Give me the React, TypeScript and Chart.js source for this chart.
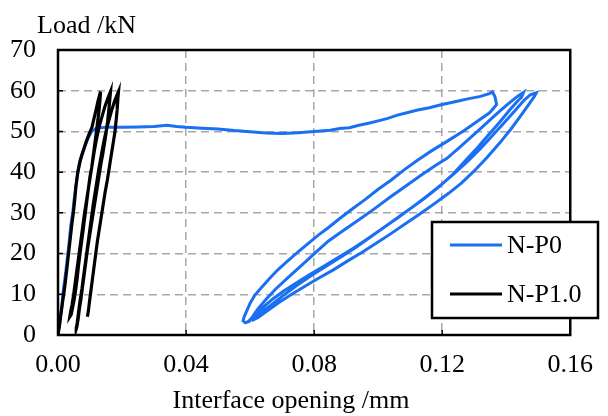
import { useEffect, useRef } from 'react';
import { Chart, registerables } from 'chart.js';

Chart.register(...registerables);

// ---------- DATA ----------
const xTickValues = [0, 0.04, 0.08, 0.12, 0.16];
const yTickValues = [0, 10, 20, 30, 40, 50, 60, 70];
const seriesNames = ['N-P0', 'N-P1.0'];
const axisTitles = { x: 'Interface opening /mm', y: 'Load /kN' };

// N-P0 : [opening (mm), load (kN)]
const np0Loading = [
  [0, 0], [0.0004, 2.5], [0.0008, 5], [0.0012, 7], [0.0015, 10], [0.002, 13], [0.0025, 16], [0.003, 19.5],
  [0.0035, 23], [0.004, 27], [0.0046, 30], [0.005, 33], [0.0055, 36], [0.006, 39], [0.0066, 42], [0.0075, 44.5],
  [0.0085, 46.5], [0.0095, 48.5], [0.0105, 50], [0.012, 50.8], [0.015, 51], [0.02, 51], [0.025, 51.1],
  [0.03, 51.2], [0.034, 51.5], [0.037, 51.2], [0.04, 51], [0.045, 50.8], [0.05, 50.6], [0.055, 50.2],
  [0.06, 49.9], [0.065, 49.6], [0.07, 49.5], [0.075, 49.7], [0.08, 50], [0.085, 50.3], [0.088, 50.7],
  [0.091, 50.9], [0.094, 51.5], [0.097, 52], [0.1, 52.6], [0.103, 53.2], [0.106, 54], [0.109, 54.6],
  [0.112, 55.2], [0.116, 55.8], [0.12, 56.6], [0.124, 57.3], [0.128, 58], [0.132, 58.6], [0.1347, 59.3],
  [0.1357, 59.7], [0.1365, 58.5], [0.137, 56.6],
];
const np0Unload1 = [
  [0.1355, 55.2], [0.1347, 54.5], [0.131, 52.5], [0.127, 50.3], [0.122, 47.8], [0.1164, 45.1], [0.1124, 43.0],
  [0.108, 40.5], [0.104, 38], [0.1, 35.8], [0.096, 33.3], [0.092, 31], [0.088, 28.6], [0.0845, 26.4],
  [0.0814, 24.6], [0.078, 22.4], [0.075, 20.4], [0.0715, 18], [0.0685, 15.9], [0.066, 13.8], [0.0635, 11.6],
  [0.0615, 9.8], [0.06, 7.8], [0.059, 6], [0.0582, 4.6], [0.0578, 3.5], [0.0585, 3.0], [0.0598, 3.4],
];
const np0Reload1 = [
  [0.0608, 4.5], [0.0625, 6.5], [0.065, 8.8], [0.068, 11.3], [0.072, 14.2], [0.0765, 17.4], [0.0805, 20.3],
  [0.0845, 23.1], [0.089, 25.6], [0.094, 28.3], [0.099, 31.1], [0.104, 34], [0.109, 36.8], [0.1135, 39.3],
  [0.118, 41.7], [0.1215, 43.4], [0.125, 45.8], [0.129, 48.6], [0.133, 51.4], [0.137, 54.3], [0.1405, 56.7],
  [0.1435, 58.6], [0.1454, 59.6],
];
const np0Unload2 = [
  [0.1448, 58.4], [0.1435, 57.4], [0.141, 55.2], [0.138, 52.3], [0.1345, 49.2], [0.131, 46], [0.127, 42.6],
  [0.123, 39.2], [0.119, 36.4], [0.1145, 33.6], [0.11, 31], [0.1055, 28.5], [0.101, 26], [0.0965, 23.5],
  [0.092, 21.2], [0.0875, 19], [0.083, 16.9], [0.0785, 14.8], [0.0743, 12.7], [0.0705, 10.8], [0.067, 8.8],
  [0.064, 6.8], [0.0615, 5], [0.0598, 3.6], [0.0592, 3.2],
];
const np0Reload2 = [
  [0.0605, 3.9], [0.063, 5.3], [0.0665, 7.3], [0.0705, 9.8], [0.075, 12.4], [0.0795, 14.8], [0.084, 17],
  [0.0885, 19.2], [0.093, 21.5], [0.0975, 24], [0.102, 26.5], [0.1065, 29], [0.111, 31.6], [0.1155, 34.3],
  [0.12, 37.1], [0.124, 39.8], [0.128, 42.7], [0.132, 45.8], [0.1355, 48.8], [0.139, 51.8], [0.1425, 54.9],
  [0.1455, 57.6], [0.1475, 59], [0.1494, 59.5],
];
const np0Unload3 = [
  [0.1488, 58.6], [0.147, 56.6], [0.1445, 53.8], [0.1415, 50.6], [0.138, 47.2], [0.134, 43.6], [0.13, 40.3],
  [0.126, 37.3], [0.122, 34.8], [0.1175, 32.2], [0.113, 29.7], [0.1085, 27.3], [0.104, 24.9], [0.0995, 22.6],
  [0.095, 20.3], [0.0905, 18.2], [0.086, 16], [0.0815, 14], [0.077, 11.9], [0.073, 10], [0.069, 8],
  [0.0655, 6], [0.0625, 4.3], [0.0605, 3.5],
];

// N-P1.0 : [opening (mm), load (kN)]
const np1Loading = [
  [0, 0], [0.0005, 2.5], [0.0009, 5], [0.0014, 8], [0.0018, 10], [0.0023, 13], [0.0028, 16.5], [0.0033, 20],
  [0.0038, 23.5], [0.0043, 27], [0.0048, 30], [0.0052, 33], [0.0056, 36.5], [0.0062, 40], [0.007, 43],
  [0.0078, 45], [0.0088, 47.5], [0.0098, 49.5], [0.0106, 51], [0.0112, 53], [0.0118, 55], [0.0125, 57.5],
  [0.0133, 59.8],
];
const np1Unload1 = [
  [0.0131, 57.5], [0.0128, 55], [0.0124, 52.5], [0.012, 50], [0.0115, 47], [0.011, 44], [0.0105, 41],
  [0.01, 39], [0.0095, 36], [0.0091, 33.5], [0.0087, 31], [0.0082, 28], [0.0078, 25.5], [0.0073, 22.5],
  [0.0068, 19.5], [0.0064, 17], [0.006, 14], [0.0055, 11], [0.005, 8.5], [0.0045, 6.5], [0.0041, 5], [0.0037, 4.5],
];
const np1Reload1 = [
  [0.0039, 5.5], [0.0044, 7.5], [0.0049, 10], [0.0054, 13], [0.0059, 16], [0.0065, 19.5], [0.0071, 23],
  [0.0077, 26.5], [0.0083, 30], [0.0089, 33], [0.0095, 36], [0.0101, 39], [0.0107, 42], [0.0113, 45],
  [0.012, 48], [0.0128, 51], [0.0137, 53.5], [0.0146, 56], [0.0155, 58], [0.0164, 59.8],
];
const np1Unload2 = [
  [0.0162, 58], [0.0159, 55.5], [0.0155, 52.5], [0.015, 49.5], [0.0145, 47], [0.014, 44.5], [0.0134, 42],
  [0.0128, 39], [0.0122, 36], [0.0116, 33], [0.011, 30], [0.0104, 27], [0.0098, 24], [0.0092, 21],
  [0.0087, 18], [0.0082, 15], [0.0077, 12], [0.0072, 9], [0.0067, 6.5], [0.0063, 4], [0.0059, 2], [0.0057, 1.5],
];
const np1Reload2 = [
  [0.006, 3], [0.0064, 5.5], [0.0069, 8.5], [0.0075, 11.5], [0.008, 14.5], [0.0086, 18], [0.0092, 21.5],
  [0.0098, 25], [0.0104, 28.5], [0.011, 32], [0.0116, 35], [0.0122, 38], [0.0128, 41], [0.0135, 44],
  [0.0142, 47], [0.015, 50], [0.0158, 52.5], [0.0167, 55], [0.0177, 57.5], [0.0189, 59.8],
];
const np1Unload3 = [
  [0.0187, 58], [0.0185, 55.5], [0.0182, 53], [0.0178, 50], [0.0172, 47], [0.0166, 44], [0.016, 41],
  [0.0154, 38], [0.0147, 35], [0.0141, 32], [0.0135, 29], [0.0129, 26], [0.0123, 23], [0.0118, 20],
  [0.0113, 17], [0.0108, 14], [0.0103, 11], [0.0098, 8], [0.0095, 6], [0.0092, 4.5],
];

const np0Path = [...np0Loading, ...np0Unload1, ...np0Reload1, ...np0Unload2, ...np0Reload2, ...np0Unload3];
const np1Path = [...np1Loading, ...np1Unload1, ...np1Reload1, ...np1Unload2, ...np1Reload2, ...np1Unload3];

// ---------- STYLE ----------
const BLUE = '#1a6ff2';
const BLACK = '#000000';
const FONT = '"Liberation Serif", "Times New Roman", serif';
const FONT_SIZE = 26;

const framePlugin = {
  id: 'frame',
  afterDatasetsDraw(chart: any) {
    const { ctx, chartArea: a, scales } = chart;
    ctx.save();
    ctx.strokeStyle = '#000';
    ctx.lineWidth = 1.5;
    ctx.beginPath();
    xTickValues.forEach((v) => {
      const px = scales.x.getPixelForValue(v);
      ctx.moveTo(px, a.bottom);
      ctx.lineTo(px, a.bottom - 5);
    });
    yTickValues.forEach((v) => {
      const py = scales.y.getPixelForValue(v);
      ctx.moveTo(a.left, py);
      ctx.lineTo(a.left + 5, py);
    });
    ctx.stroke();
    ctx.lineWidth = 2.5;
    ctx.strokeRect(a.left, a.top, a.right - a.left, a.bottom - a.top);
    ctx.restore();
  },
  afterDraw(chart: any) {
    const { ctx } = chart;
    ctx.save();
    ctx.fillStyle = '#000';
    ctx.font = `${FONT_SIZE}px ${FONT}`;
    ctx.textBaseline = 'alphabetic';
    ctx.textAlign = 'left';
    ctx.fillText(axisTitles.y, 37, 33);
    ctx.textAlign = 'center';
    ctx.fillText(axisTitles.x, 291, 408);

    const lx = 432, ly = 222, lw = 166, lh = 96;
    ctx.fillStyle = '#fff';
    ctx.fillRect(lx, ly, lw, lh);
    ctx.strokeStyle = '#000';
    ctx.lineWidth = 2.5;
    ctx.strokeRect(lx, ly, lw, lh);
    const rows = [
      { name: seriesNames[0], color: BLUE, y: 245 },
      { name: seriesNames[1], color: BLACK, y: 294 },
    ];
    rows.forEach((r) => {
      ctx.strokeStyle = r.color;
      ctx.lineWidth = 2.8;
      ctx.beginPath();
      ctx.moveTo(450, r.y);
      ctx.lineTo(502, r.y);
      ctx.stroke();
      ctx.fillStyle = '#000';
      ctx.textAlign = 'left';
      ctx.textBaseline = 'middle';
      ctx.fillText(r.name, 507, r.y + 1);
    });
    ctx.restore();
  },
};

export default function App() {
  const ref = useRef<HTMLCanvasElement>(null);

  useEffect(() => {
    document.body.style.margin = '0';
    const canvas = ref.current;
    if (!canvas) return;
    const gridColor = (ctx: any) => {
      const v = ctx.tick?.value;
      if (v === undefined) return 'rgba(0,0,0,0)';
      return ctx.index === 0 || ctx.index === ctx.chart.scales[ctx.scale.id].ticks.length - 1
        ? 'rgba(0,0,0,0)'
        : '#a8a8a8';
    };
    const chart = new Chart(canvas, {
      type: 'scatter',
      data: {
        datasets: [
          {
            label: seriesNames[1],
            data: np1Path.map(([x, y]) => ({ x, y })),
            showLine: true,
            borderColor: BLACK,
            backgroundColor: BLACK,
            borderWidth: 3.2,
            pointRadius: 0,
            tension: 0,
          },
          {
            label: seriesNames[0],
            data: np0Path.map(([x, y]) => ({ x, y })),
            showLine: true,
            borderColor: BLUE,
            backgroundColor: BLUE,
            borderWidth: 3,
            pointRadius: 0,
            tension: 0,
          },
        ],
      },
      options: {
        animation: false,
        responsive: false,
        devicePixelRatio: 1,
        layout: { padding: { top: 50, right: 25, left: 0, bottom: 0 } },
        plugins: { legend: { display: false }, tooltip: { enabled: false } },
        scales: {
          x: {
            type: 'linear',
            min: 0,
            max: 0.16,
            afterBuildTicks: (s: any) => {
              s.ticks = xTickValues.map((value) => ({ value }));
            },
            afterFit: (s: any) => {
              s.height = 81;
            },
            ticks: {
              font: { family: FONT, size: FONT_SIZE },
              color: '#000',
              padding: 15,
              maxRotation: 0,
              callback: (v: any) => Number(v).toFixed(2),
            },
            grid: { color: gridColor, lineWidth: 1.5, drawTicks: false },
            border: { display: false, dash: [8, 5] },
          },
          y: {
            type: 'linear',
            min: 0,
            max: 70,
            afterBuildTicks: (s: any) => {
              s.ticks = yTickValues.map((value) => ({ value }));
            },
            afterFit: (s: any) => {
              s.width = 58;
            },
            ticks: {
              font: { family: FONT, size: FONT_SIZE },
              color: '#000',
              padding: 22,
              callback: (v: any) => String(v),
            },
            grid: { color: gridColor, lineWidth: 1.5, drawTicks: false },
            border: { display: false, dash: [8, 5] },
          },
        },
      },
      plugins: [framePlugin],
    } as any);
    return () => chart.destroy();
  }, []);

  return (
    <div style={{ position: 'absolute', left: 0, top: 0, width: 608, height: 416, background: '#fff' }}>
      <canvas ref={ref} width={608} height={416} style={{ width: 608, height: 416 }} />
    </div>
  );
}
